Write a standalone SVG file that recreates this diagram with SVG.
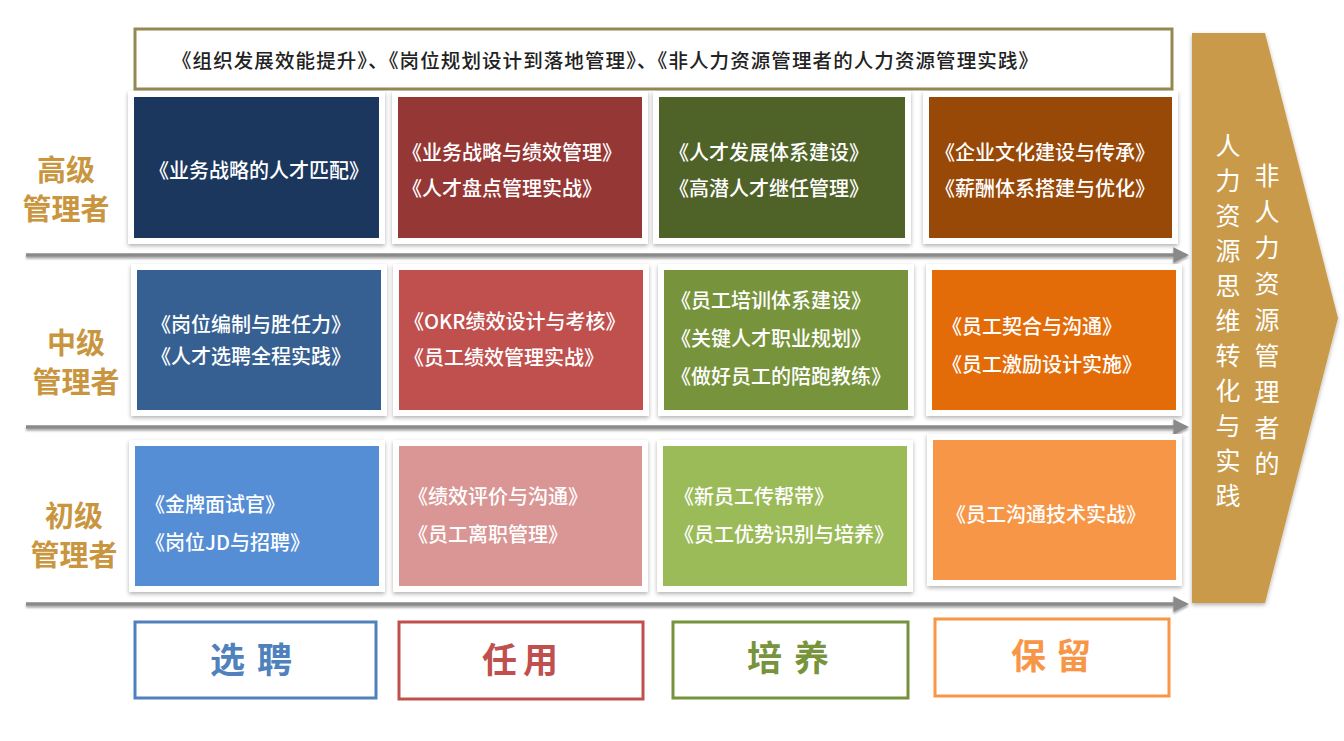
<svg xmlns="http://www.w3.org/2000/svg" width="1344" height="741" viewBox="0 0 1344 741">
<defs>
<filter id="sh" x="-10%" y="-10%" width="120%" height="125%"><feDropShadow dx="0" dy="2" stdDeviation="2" flood-color="#000" flood-opacity="0.3"/></filter>
<filter id="lsh" filterUnits="userSpaceOnUse" x="0" y="0" width="1344" height="741"><feDropShadow dx="0" dy="2" stdDeviation="1.2" flood-color="#000" flood-opacity="0.35"/></filter>
<marker id="ah" viewBox="0 0 10 10" refX="8" refY="5" markerWidth="4.5" markerHeight="4.5" orient="auto" markerUnits="strokeWidth"><path d="M0,0 L10,5 L0,10 z" fill="#8a8a8a"/></marker>
<style>
.card{fill:#fff;filter:url(#sh)}
.t{font-family:"Noto Sans CJK SC","Noto Sans",sans-serif;font-size:20px;fill:#fff;font-weight:500}
.lvl{font-family:"Noto Sans CJK SC","Noto Sans",sans-serif;font-size:29px;font-weight:700;fill:#c9963f;text-anchor:middle}
.cat{font-family:"Noto Sans CJK SC","Noto Sans",sans-serif;font-size:35px;font-weight:700;text-anchor:middle}
.catbox{fill:#fff;stroke-width:3}
.line{stroke:#8a8a8a;stroke-width:3.5;fill:none;marker-end:url(#ah)}
.vt{font-family:"Noto Sans CJK SC","Noto Sans",sans-serif;font-size:25px;fill:#fff;text-anchor:middle}
</style>
</defs>
<rect width="1344" height="741" fill="#fff"/>

<g id="connectors" filter="url(#lsh)">
<line class="line" x1="26" y1="255" x2="1186" y2="255"/>
<line class="line" x1="26" y1="427" x2="1186" y2="427"/>
<line class="line" x1="26" y1="604" x2="1186" y2="604"/>
</g>

<g id="banner">
<rect x="135" y="29" width="1037" height="60" fill="#fff" stroke="#938953" stroke-width="3"/>
<text x="172" y="68" font-family="'Noto Sans CJK SC',sans-serif" font-size="19.5" fill="#222" font-weight="500" textLength="866" lengthAdjust="spacing">《组织发展效能提升》、《岗位规划设计到落地管理》、《非人力资源管理者的人力资源管理实践》</text>
</g>

<g id="labels">
<text class="lvl" x="66" y="181">高级</text><text class="lvl" x="66" y="220">管理者</text>
<text class="lvl" x="76" y="354">中级</text><text class="lvl" x="76" y="393">管理者</text>
<text class="lvl" x="74" y="527">初级</text><text class="lvl" x="74" y="566">管理者</text>
</g>

<g id="r1c1"><rect class="card" x="128" y="91" width="257" height="153"/><rect x="134" y="97" width="245" height="141" fill="#1b375e"/>
<text class="t" x="149" y="178">《业务战略的人才匹配》</text></g>
<g id="r1c2"><rect class="card" x="392" y="91" width="256" height="153"/><rect x="398" y="97" width="244" height="141" fill="#953735"/>
<text class="t" x="402" y="160">《业务战略与绩效管理》</text><text class="t" x="402" y="196">《人才盘点管理实战》</text></g>
<g id="r1c3"><rect class="card" x="653" y="91" width="258" height="153"/><rect x="659" y="97" width="246" height="141" fill="#4f6228"/>
<text class="t" x="669" y="160">《人才发展体系建设》</text><text class="t" x="669" y="196">《高潜人才继任管理》</text></g>
<g id="r1c4"><rect class="card" x="923" y="91" width="255" height="153"/><rect x="929" y="97" width="243" height="141" fill="#984807"/>
<text class="t" x="935" y="160">《企业文化建设与传承》</text><text class="t" x="935" y="196">《薪酬体系搭建与优化》</text></g>

<g id="r2c1"><rect class="card" x="131" y="264" width="256" height="152"/><rect x="137" y="270" width="244" height="140" fill="#366092"/>
<text class="t" x="151" y="332">《岗位编制与胜任力》</text><text class="t" x="151" y="364">《人才选聘全程实践》</text></g>
<g id="r2c2"><rect class="card" x="393" y="264" width="256" height="152"/><rect x="399" y="270" width="244" height="140" fill="#c0504d"/>
<text class="t" x="404" y="329">《OKR绩效设计与考核》</text><text class="t" x="404" y="365">《员工绩效管理实战》</text></g>
<g id="r2c3"><rect class="card" x="658" y="264" width="256" height="152"/><rect x="664" y="270" width="244" height="140" fill="#77933c"/>
<text class="t" x="671" y="308">《员工培训体系建设》</text><text class="t" x="671" y="346">《关键人才职业规划》</text><text class="t" x="671" y="384">《做好员工的陪跑教练》</text></g>
<g id="r2c4"><rect class="card" x="926" y="264" width="256" height="152"/><rect x="932" y="270" width="244" height="140" fill="#e36c09"/>
<text class="t" x="942" y="334">《员工契合与沟通》</text><text class="t" x="942" y="372">《员工激励设计实施》</text></g>

<g id="r3c1"><rect class="card" x="129" y="440" width="256" height="152"/><rect x="135" y="446" width="244" height="140" fill="#558ed5"/>
<text class="t" x="145" y="512">《金牌面试官》</text><text class="t" x="145" y="550">《岗位JD与招聘》</text></g>
<g id="r3c2"><rect class="card" x="393" y="440" width="255" height="152"/><rect x="399" y="446" width="243" height="140" fill="#d99694"/>
<text class="t" x="408" y="504">《绩效评价与沟通》</text><text class="t" x="408" y="542">《员工离职管理》</text></g>
<g id="r3c3"><rect class="card" x="657" y="440" width="256" height="152"/><rect x="663" y="446" width="244" height="140" fill="#9bbb59"/>
<text class="t" x="674" y="504">《新员工传帮带》</text><text class="t" x="674" y="542">《员工优势识别与培养》</text></g>
<g id="r3c4"><rect class="card" x="927" y="434" width="255" height="152"/><rect x="933" y="440" width="243" height="140" fill="#f79646"/>
<text class="t" x="946" y="522">《员工沟通技术实战》</text></g>

<g id="cat1"><rect class="catbox" x="135" y="622" width="241" height="76" stroke="#4f81bd"/><text class="cat" x="257" y="673" fill="#4f81bd" letter-spacing="12">选聘</text></g>
<g id="cat2"><rect class="catbox" x="399" y="622" width="244" height="77" stroke="#c0504d"/><text class="cat" x="523" y="673" fill="#c0504d" letter-spacing="6">任用</text></g>
<g id="cat3"><rect class="catbox" x="673" y="622" width="235" height="76" stroke="#77933c"/><text class="cat" x="794" y="671" fill="#77933c" letter-spacing="12">培养</text></g>
<g id="cat4"><rect class="catbox" x="935" y="619" width="234" height="77" stroke="#f79646"/><text class="cat" x="1056" y="669" fill="#f79646" letter-spacing="10">保留</text></g>

<g id="bigarrow">
<polygon points="1192,33 1265,33 1338,318 1265,603 1192,603" fill="#c99a4a" filter="url(#sh)"/>
<text class="vt" x="1228"><tspan x="1228" y="155">人</tspan><tspan x="1228" y="190">力</tspan><tspan x="1228" y="225">资</tspan><tspan x="1228" y="260">源</tspan><tspan x="1228" y="295">思</tspan><tspan x="1228" y="330">维</tspan><tspan x="1228" y="365">转</tspan><tspan x="1228" y="400">化</tspan><tspan x="1228" y="435">与</tspan><tspan x="1228" y="470">实</tspan><tspan x="1228" y="505">践</tspan></text>
<text class="vt" x="1267"><tspan x="1267" y="185">非</tspan><tspan x="1267" y="221">人</tspan><tspan x="1267" y="257">力</tspan><tspan x="1267" y="293">资</tspan><tspan x="1267" y="329">源</tspan><tspan x="1267" y="365">管</tspan><tspan x="1267" y="401">理</tspan><tspan x="1267" y="437">者</tspan><tspan x="1267" y="473">的</tspan></text>
</g>
</svg>
